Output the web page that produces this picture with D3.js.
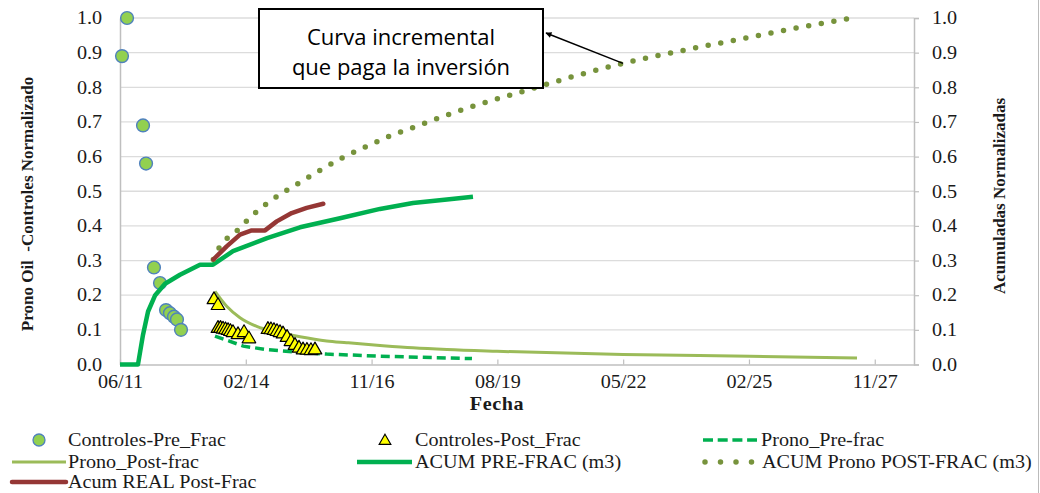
<!DOCTYPE html>
<html>
<head>
<meta charset="utf-8">
<script src="https://cdn.jsdelivr.net/npm/d3@7"></script>
<style>
  html, body { margin: 0; padding: 0; background: #fff; }
  svg { display: block; font-family: "Liberation Serif", "Times New Roman", serif; }
</style>
</head>
<body>
<svg id="chart" width="1040" height="493"></svg>
<script>
// ---- Data ---------------------------------------------------------------
const xDomain = ["2011-06-01", "2028-09-11"];
const xTickDates = ["2011-06-01", "2014-02-25", "2016-11-21", "2019-08-18",
                    "2022-05-14", "2025-02-07", "2027-11-04"];
const yTicks = [0, 0.1, 0.2, 0.3, 0.4, 0.5, 0.6, 0.7, 0.8, 0.9, 1.0];

// Controles previos a la fractura (normalizados)
const controlesPreFrac = [
  ["2011-06-17", 0.89], ["2011-07-27", 1.00], ["2011-12-01", 0.69],
  ["2011-12-25", 0.58], ["2012-02-26", 0.28], ["2012-04-14", 0.235],
  ["2012-06-01", 0.157], ["2012-07-02", 0.148], ["2012-08-03", 0.138],
  ["2012-08-27", 0.13], ["2012-09-28", 0.10]
];

// Controles posteriores a la fractura
const controlesPostFrac = [
  ["2013-06-17", 0.187], ["2013-07-19", 0.170],
  ["2013-07-19", 0.104], ["2013-08-08", 0.104], ["2013-08-28", 0.102],
  ["2013-09-17", 0.100], ["2013-10-07", 0.098], ["2013-10-26", 0.095],
  ["2013-11-15", 0.092], ["2013-12-25", 0.086], ["2014-02-11", 0.092],
  ["2014-03-22", 0.074],
  ["2014-08-20", 0.101], ["2014-09-13", 0.100], ["2014-10-07", 0.098],
  ["2014-10-31", 0.095], ["2014-11-24", 0.092], ["2014-12-18", 0.088],
  ["2015-01-19", 0.078], ["2015-02-19", 0.066], ["2015-03-23", 0.055],
  ["2015-04-24", 0.047], ["2015-05-26", 0.042], ["2015-06-26", 0.041],
  ["2015-07-28", 0.040], ["2015-08-29", 0.042]
];

// Pronóstico sin fractura
const pronoPreFrac = [
  ["2013-06-25", 0.082], ["2013-10-22", 0.067], ["2014-02-05", 0.053],
  ["2014-08-10", 0.043], ["2015-05-02", 0.035], ["2015-11-30", 0.030],
  ["2017-01-27", 0.024], ["2019-01-28", 0.017]
];

// Pronóstico con fractura
const pronoPostFrac = [
  ["2013-06-25", 0.211], ["2013-09-26", 0.168], ["2014-01-10", 0.135],
  ["2014-05-23", 0.110], ["2014-11-08", 0.093], ["2015-05-02", 0.080],
  ["2015-11-30", 0.068], ["2016-05-07", 0.063], ["2017-01-27", 0.055],
  ["2017-10-16", 0.048], ["2018-07-13", 0.043], ["2019-08-15", 0.038],
  ["2022-05-13", 0.029], ["2025-02-15", 0.024], ["2027-06-16", 0.019]
];

// Acumuladas (eje secundario)
const acumPreFrac = [
  ["2011-06-01", 0.000], ["2011-10-22", 0.000], ["2011-12-01", 0.086],
  ["2012-01-10", 0.153], ["2012-03-05", 0.199], ["2012-05-24", 0.233],
  ["2012-09-20", 0.259], ["2013-02-26", 0.288], ["2013-06-09", 0.288],
  ["2013-11-15", 0.327], ["2014-08-13", 0.365], ["2015-05-02", 0.396],
  ["2016-03-15", 0.422], ["2017-01-27", 0.449], ["2017-10-16", 0.466],
  ["2018-07-13", 0.476], ["2019-02-05", 0.484]
];

const acumPronoPostFrac = [
  ["2013-06-12", 0.303], ["2013-07-19", 0.331], ["2013-12-25", 0.389],
  ["2014-05-25", 0.442], ["2014-10-31", 0.485], ["2015-04-24", 0.524],
  ["2015-10-16", 0.562], ["2016-04-16", 0.599], ["2016-10-23", 0.631],
  ["2017-05-02", 0.662], ["2017-11-17", 0.688], ["2018-06-12", 0.716],
  ["2018-12-19", 0.740], ["2019-07-14", 0.763], ["2020-02-06", 0.785],
  ["2021-05-20", 0.835], ["2022-05-13", 0.869], ["2023-10-19", 0.910],
  ["2024-12-13", 0.940], ["2026-02-16", 0.971], ["2027-05-07", 1.000]
];

const acumRealPostFrac = [
  ["2013-06-12", 0.303], ["2013-09-26", 0.341], ["2014-01-10", 0.375],
  ["2014-04-13", 0.387], ["2014-07-28", 0.387], ["2014-10-29", 0.413],
  ["2015-02-25", 0.437], ["2015-06-24", 0.452], ["2015-11-03", 0.464]
];

const annotationLines = ["Curva incremental", "que paga la inversión"];
const annotationTarget = ["2022-05-13", 0.869];

// ---- Scales -------------------------------------------------------------
const parse = d3.utcParse("%Y-%m-%d");
const svg = d3.select("#chart");

const plot = { left: 120, right: 914, top: 18, bottom: 364.5 };
const x = d3.scaleUtc().domain(xDomain.map(parse)).range([plot.left, plot.right]);
const y = d3.scaleLinear().domain([0, 1]).range([plot.bottom, plot.top]);
const y2 = d3.scaleLinear().domain([0, 1]).range([plot.bottom, plot.top]);

const axisGray = "#BFBFBF";
const textColor = "#1a1a1a";
const wide = 1.12;   // horizontal stretch of the serif labels

// outer frame edge
svg.append("line").attr("x1", 1038.5).attr("x2", 1038.5).attr("y1", 0).attr("y2", 493)
  .attr("stroke", "#BBBBBB").attr("stroke-width", 1);

// ---- Grid ---------------------------------------------------------------
svg.append("g").selectAll("line").data(yTicks.slice(1)).join("line")
  .attr("x1", plot.left).attr("x2", plot.right)
  .attr("y1", d => y(d)).attr("y2", d => y(d))
  .attr("stroke", "#DCDCDC").attr("stroke-width", 1.3);

// ---- Axes ---------------------------------------------------------------
function styleAxis(g, size) {
  g.attr("font-family", null);
  g.select(".domain").attr("stroke", axisGray).attr("stroke-width", 1.5);
  g.selectAll(".tick line").attr("stroke", axisGray).attr("stroke-width", 1.2);
  g.selectAll(".tick text").attr("fill", textColor).style("font-size", size + "px")
    .attr("transform", `scale(${wide},1)`);
}

svg.append("g").attr("transform", `translate(${plot.left},0)`)
  .call(d3.axisLeft(y).tickValues(yTicks).tickFormat(d3.format(".1f"))
          .tickSize(0).tickPadding(16))
  .call(g => styleAxis(g, 18));

svg.append("g").attr("transform", `translate(${plot.right},0)`)
  .call(d3.axisRight(y2).tickValues(yTicks).tickFormat(d3.format(".1f"))
          .tickSizeInner(5).tickSizeOuter(5).tickPadding(11))
  .call(g => styleAxis(g, 18));

svg.append("g").attr("transform", `translate(0,${plot.bottom})`)
  .call(d3.axisBottom(x).tickValues(xTickDates.map(parse))
          .tickFormat(d3.utcFormat("%m/%y")).tickSizeInner(-5).tickSizeOuter(0).tickPadding(11))
  .call(g => styleAxis(g, 18));

// axis titles
svg.append("text")
  .attr("transform", "translate(33,204) rotate(-90)")
  .attr("text-anchor", "middle").attr("fill", textColor)
  .style("font-size", "17px").style("font-weight", "bold").style("white-space", "pre")
  .text("Prono Oil  -Controles Normalizado");

svg.append("text")
  .attr("transform", "translate(1005,196) rotate(-90)")
  .attr("text-anchor", "middle").attr("fill", textColor)
  .style("font-size", "17px").style("font-weight", "bold")
  .text("Acumuladas Normalizadas");

svg.append("text")
  .attr("transform", `translate(497,410) scale(${wide},1)`)
  .attr("text-anchor", "middle").attr("fill", textColor)
  .style("font-size", "18px").style("font-weight", "bold").style("letter-spacing", "0.5px")
  .text("Fecha");

// ---- Series -------------------------------------------------------------
const lineP = d3.line().x(d => x(parse(d[0]))).y(d => y(d[1]));
const lineS = d3.line().x(d => x(parse(d[0]))).y(d => y2(d[1]));

const styles = {
  pre:      { fill: "#92D050", stroke: "#4F81BD" },
  post:     { fill: "#FFFF00", stroke: "#000000" },
  pronoPre: { stroke: "#00B050", width: 3.5, dash: "9 5" },
  pronoPost:{ stroke: "#9BBB59", width: 3 },
  acumPre:  { stroke: "#00B050", width: 4.5 },
  acumPost: { stroke: "#77933C", width: 5.5, dash: "0 12.8" },
  acumReal: { stroke: "#953735", width: 4.5 }
};

// primary axis series
svg.append("g").selectAll("circle").data(controlesPreFrac).join("circle")
  .attr("cx", d => x(parse(d[0]))).attr("cy", d => y(d[1])).attr("r", 6.4)
  .attr("fill", styles.pre.fill).attr("stroke", styles.pre.stroke).attr("stroke-width", 1.4);

svg.append("path").datum(pronoPreFrac).attr("d", lineP).attr("fill", "none")
  .attr("stroke", styles.pronoPre.stroke).attr("stroke-width", styles.pronoPre.width)
  .attr("stroke-dasharray", styles.pronoPre.dash);

svg.append("path").datum(pronoPostFrac)
  .attr("d", d3.line().x(d => x(parse(d[0]))).y(d => y(d[1])).curve(d3.curveMonotoneX))
  .attr("fill", "none")
  .attr("stroke", styles.pronoPost.stroke).attr("stroke-width", styles.pronoPost.width);

const tri = d3.symbol(d3.symbolTriangle, 80);
svg.append("g").selectAll("path").data(controlesPostFrac).join("path")
  .attr("transform", d => `translate(${x(parse(d[0]))},${y(d[1])})`)
  .attr("d", tri)
  .attr("fill", styles.post.fill).attr("stroke", styles.post.stroke).attr("stroke-width", 1.2)
  .attr("stroke-linejoin", "round");

// secondary axis series
svg.append("path").datum(acumPreFrac).attr("d", lineS).attr("fill", "none")
  .attr("stroke", styles.acumPre.stroke).attr("stroke-width", styles.acumPre.width)
  .attr("stroke-linejoin", "round");

svg.append("path").datum(acumPronoPostFrac)
  .attr("d", d3.line().x(d => x(parse(d[0]))).y(d => y2(d[1])).curve(d3.curveMonotoneX))
  .attr("fill", "none")
  .attr("stroke", styles.acumPost.stroke).attr("stroke-width", styles.acumPost.width)
  .attr("stroke-dasharray", styles.acumPost.dash).attr("stroke-linecap", "round");

svg.append("path").datum(acumRealPostFrac).attr("d", lineS).attr("fill", "none")
  .attr("stroke", styles.acumReal.stroke).attr("stroke-width", styles.acumReal.width)
  .attr("stroke-linejoin", "round").attr("stroke-linecap", "round");

// ---- Annotation ---------------------------------------------------------
const defs = svg.append("defs");
defs.append("marker").attr("id", "arrowHead")
  .attr("viewBox", "0 0 10 10").attr("refX", 9).attr("refY", 5)
  .attr("markerWidth", 7).attr("markerHeight", 6).attr("markerUnits", "userSpaceOnUse")
  .attr("orient", "auto")
  .append("path").attr("d", "M0,0 L10,5 L0,10 Z").attr("fill", "#000");

const box = { x: 259, y: 9, w: 284, h: 79 };
svg.append("line")
  .attr("x1", x(parse(annotationTarget[0]))).attr("y1", y2(annotationTarget[1]))
  .attr("x2", box.x + box.w + 3).attr("y2", 33)
  .attr("stroke", "#000").attr("stroke-width", 1.5)
  .attr("marker-end", "url(#arrowHead)");

svg.append("rect").attr("x", box.x).attr("y", box.y).attr("width", box.w).attr("height", box.h)
  .attr("fill", "#fff").attr("stroke", "#000").attr("stroke-width", 2);

svg.append("g").selectAll("text").data(annotationLines).join("text")
  .attr("x", box.x + box.w / 2).attr("y", (d, i) => 45 + i * 30)
  .attr("text-anchor", "middle").attr("fill", "#000")
  .style("font-family", "'Open Sans', sans-serif").style("font-size", "22px")
  .text(d => d);

// ---- Legend -------------------------------------------------------------
const legendItems = [
  { label: "Controles-Pre_Frac",        type: "circle",  x: 39,  tx: 68,  row: 0 },
  { label: "Controles-Post_Frac",       type: "tri",     x: 385, tx: 415, row: 0 },
  { label: "Prono_Pre-frac",            type: "pronoPre", x0: 703, x1: 757, tx: 761, row: 0 },
  { label: "Prono_Post-frac",           type: "pronoPost", x0: 12, x1: 66, tx: 68, row: 1 },
  { label: "ACUM PRE-FRAC (m3)",        type: "acumPre", x0: 357, x1: 412, tx: 415, row: 1 },
  { label: "ACUM Prono POST-FRAC (m3)", type: "acumPost", x0: 705, x1: 752, tx: 762, row: 1 },
  { label: "Acum REAL Post-Frac",       type: "acumReal", x0: 12, x1: 66, tx: 68, row: 2 }
];
const rowY = [440, 462, 482];

const lg = svg.append("g");
legendItems.forEach(it => {
  const cy = rowY[it.row];
  if (it.type === "circle") {
    lg.append("circle").attr("cx", it.x).attr("cy", cy).attr("r", 6)
      .attr("fill", styles.pre.fill).attr("stroke", styles.pre.stroke).attr("stroke-width", 1.3);
  } else if (it.type === "tri") {
    lg.append("path").attr("transform", `translate(${it.x},${cy + 1})`)
      .attr("d", d3.symbol(d3.symbolTriangle, 60))
      .attr("fill", styles.post.fill).attr("stroke", "#000").attr("stroke-width", 1.1);
  } else {
    const s = styles[it.type];
    const l = lg.append("line").attr("x1", it.x0).attr("x2", it.x1).attr("y1", cy).attr("y2", cy)
      .attr("stroke", s.stroke).attr("stroke-width", s.width);
    if (s.dash) l.attr("stroke-dasharray", it.type === "acumPost" ? "0 15.5" : "10 4.7");
    if (it.type === "acumPost" || it.type === "acumReal") l.attr("stroke-linecap", "round");
  }
  lg.append("text").attr("transform", `translate(${it.tx},${cy}) scale(${wide},1)`)
    .attr("dy", "0.35em")
    .attr("fill", textColor).style("font-size", "18px").text(it.label);
});
</script>
</body>
</html>
